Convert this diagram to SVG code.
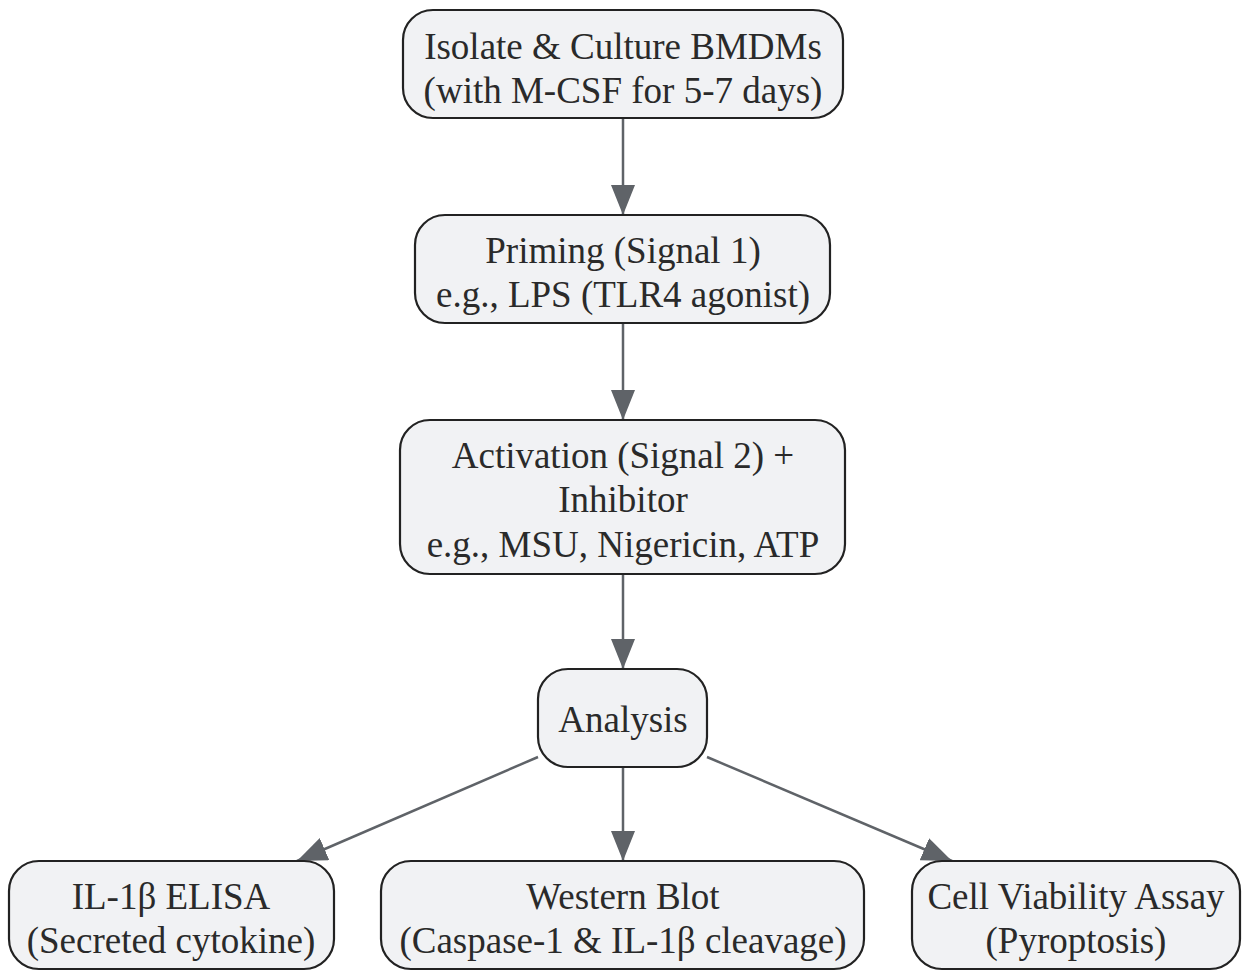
<svg xmlns="http://www.w3.org/2000/svg" width="1242" height="971" viewBox="0 0 1242 971">
<defs>
<marker id="ah" markerUnits="userSpaceOnUse" markerWidth="32" markerHeight="24" refX="30" refY="12" orient="auto">
<path d="M0,0 L30,12 L0,24 Z" fill="#5f6368"/>
</marker>
<style>
.n rect{fill:#f1f2f4;stroke:#222;stroke-width:2.2}
.n text{font-family:"Liberation Serif","Times New Roman",serif;font-size:37px;fill:#2a2a2a;text-anchor:middle}
.e line{stroke:#5f6368;stroke-width:2.5;marker-end:url(#ah)}
</style>
</defs>
<rect width="1242" height="971" fill="#ffffff"/>
<g class="e" id="connectors">
<line x1="623" y1="118" x2="623" y2="215"/>
<line x1="623" y1="323" x2="623" y2="420"/>
<line x1="623" y1="574" x2="623" y2="669"/>
<line x1="538" y1="757" x2="297" y2="861"/>
<line x1="623" y1="767" x2="623" y2="861"/>
<line x1="707" y1="757" x2="952" y2="861"/>
</g>
<g class="n" id="n1"><rect x="403" y="10" width="440" height="108" rx="30"/><text x="623" y="59">Isolate &amp; Culture BMDMs</text><text x="623" y="103">(with M-CSF for 5-7 days)</text></g>
<g class="n" id="n2"><rect x="415" y="215" width="415" height="108" rx="30"/><text x="623" y="263">Priming (Signal 1)</text><text x="623" y="307">e.g., LPS (TLR4 agonist)</text></g>
<g class="n" id="n3"><rect x="400" y="420" width="445" height="154" rx="30"/><text x="623" y="468">Activation (Signal 2) +</text><text x="623" y="512">Inhibitor</text><text x="623" y="557">e.g., MSU, Nigericin, ATP</text></g>
<g class="n" id="n4"><rect x="538" y="669" width="169" height="98" rx="30"/><text x="623" y="732">Analysis</text></g>
<g class="n" id="n5"><rect x="9" y="861" width="325" height="108" rx="30"/><text x="171" y="909">IL-1β ELISA</text><text x="171" y="953">(Secreted cytokine)</text></g>
<g class="n" id="n6"><rect x="381" y="861" width="483" height="108" rx="30"/><text x="623" y="909">Western Blot</text><text x="623" y="953">(Caspase-1 &amp; IL-1β cleavage)</text></g>
<g class="n" id="n7"><rect x="912" y="861" width="328" height="108" rx="30"/><text x="1076" y="909">Cell Viability Assay</text><text x="1076" y="953">(Pyroptosis)</text></g>
</svg>
